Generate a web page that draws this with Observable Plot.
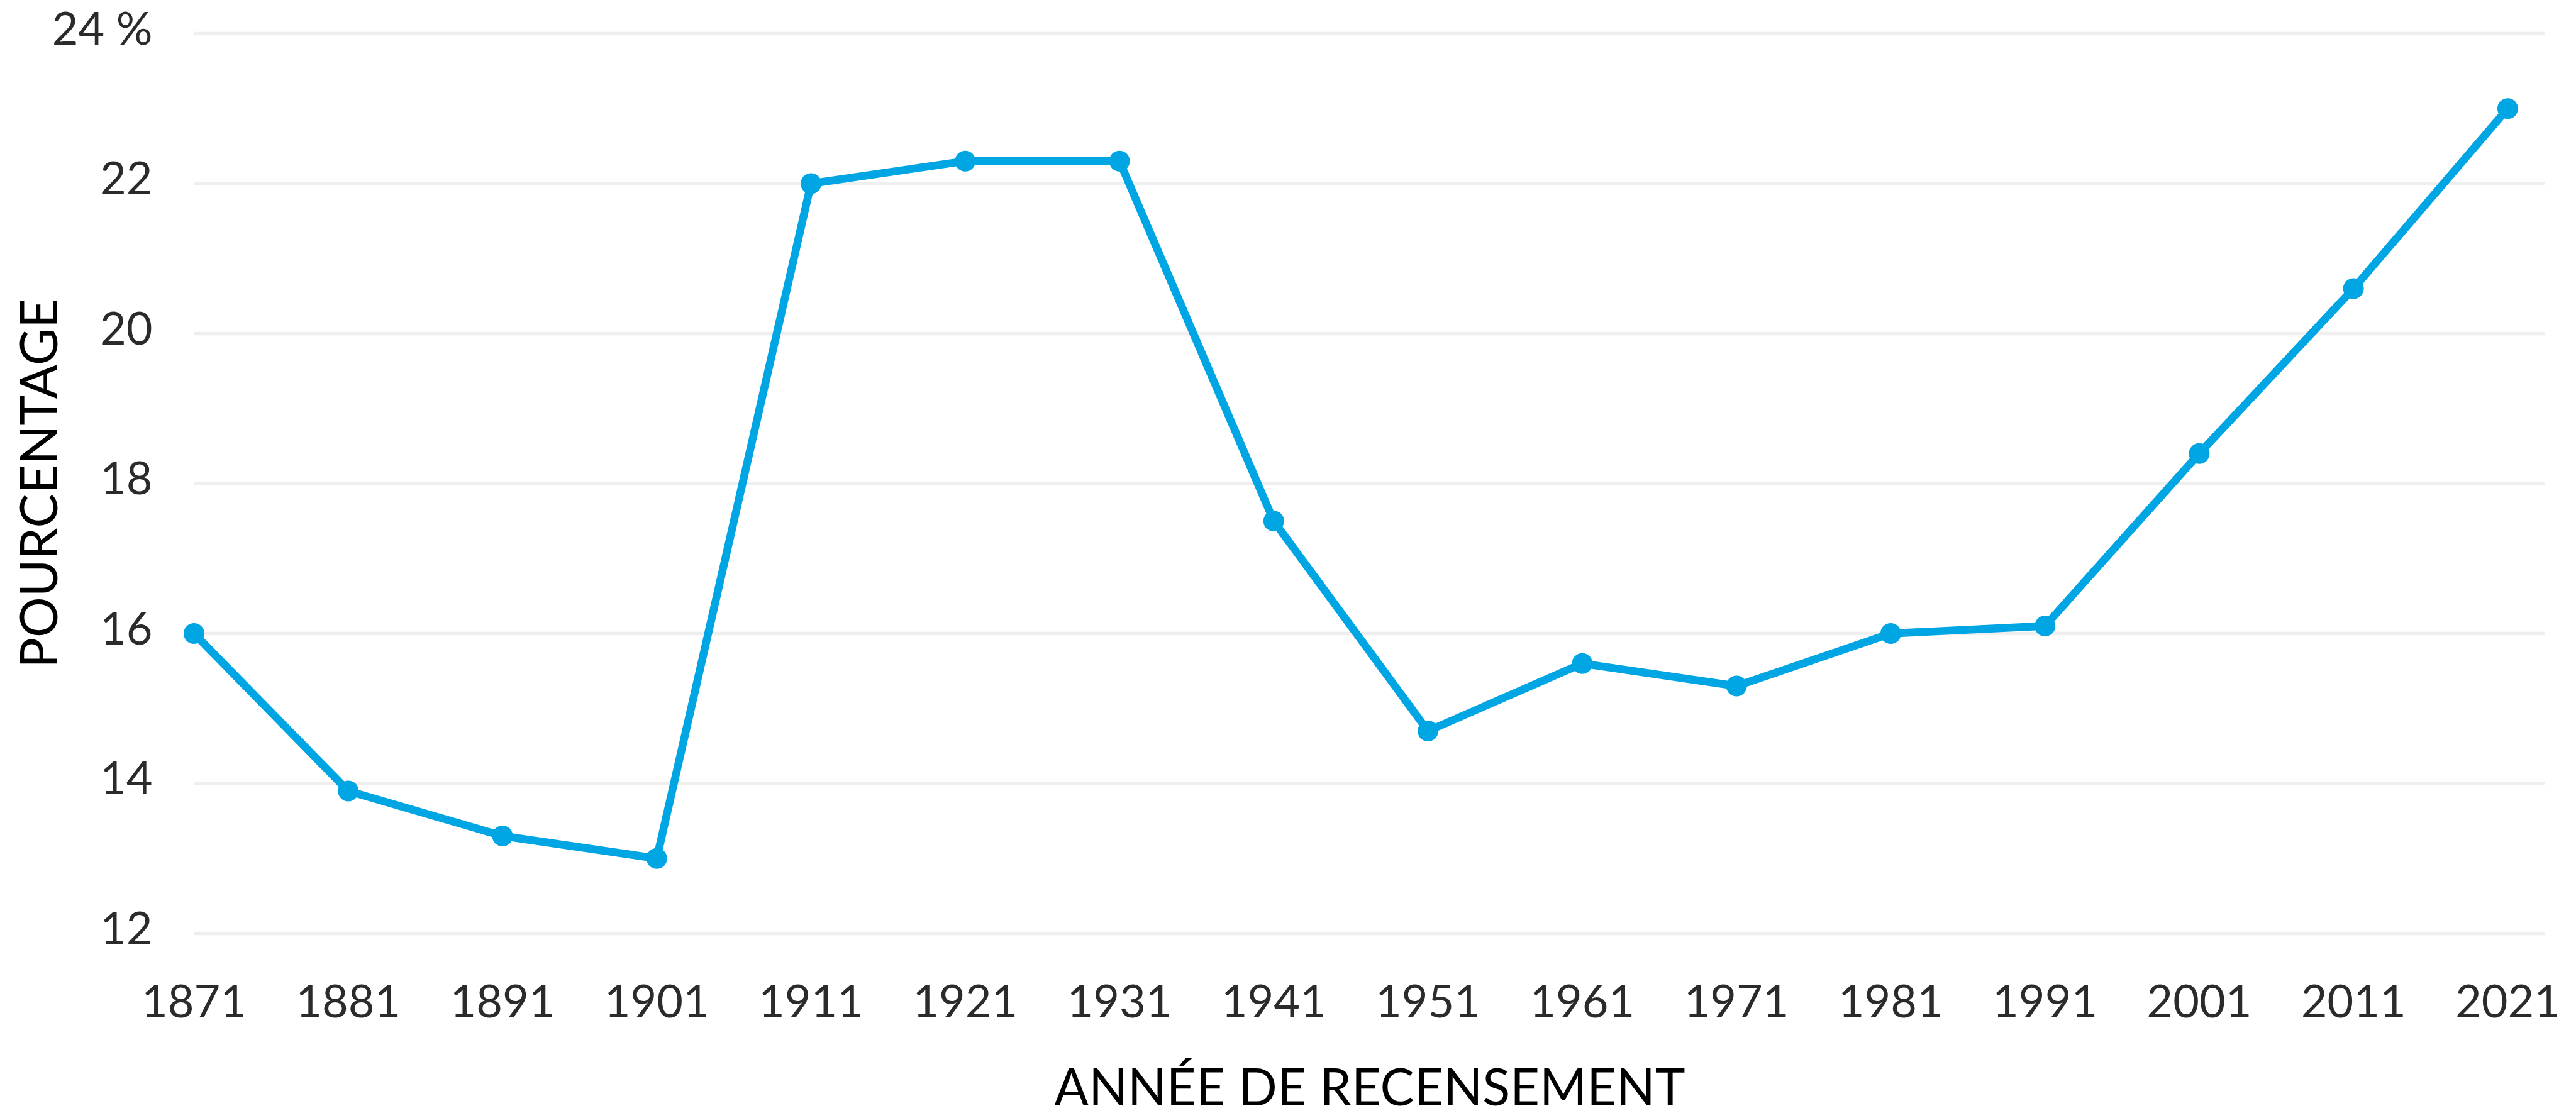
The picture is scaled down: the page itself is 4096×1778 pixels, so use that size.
<!DOCTYPE html>
<html>
<head>
<meta charset="utf-8">
<script src="https://cdn.jsdelivr.net/npm/d3@7"></script>
<script src="https://cdn.jsdelivr.net/npm/@observablehq/plot@0.6"></script>
<style>
  html, body { margin: 0; padding: 0; background: #ffffff; }
  #chart { width: 4096px; height: 1778px; overflow: hidden; }
</style>
</head>
<body>
<div id="chart"></div>
<script>
const years = [1871, 1881, 1891, 1901, 1911, 1921, 1931, 1941, 1951, 1961, 1971, 1981, 1991, 2001, 2011, 2021];
const values = [16.0, 13.9, 13.3, 13.0, 22.0, 22.3, 22.3, 17.5, 14.7, 15.6, 15.3, 16.0, 16.1, 18.4, 20.6, 23.0];
const yTicks = [12, 14, 16, 18, 20, 22, 24];
const yTitle = "POURCENTAGE";
const xTitle = "ANNÉE DE RECENSEMENT";

const data = years.map((year, i) => ({year, value: values[i]}));

const font = "Lato, 'Open Sans', sans-serif";

const chart = Plot.plot({
  width: 4096,
  height: 1778,
  marginTop: 53,
  marginBottom: 294,
  marginLeft: 308,
  marginRight: 49,
  style: {fontFamily: font, fontSize: "72px", color: "#2b2b2b", background: "#ffffff"},
  x: {type: "linear", domain: [1871, 2023.45]},
  y: {domain: [12, 24]},
  marks: [
    Plot.ruleY(yTicks, {stroke: "#efefef", strokeWidth: 5.5}),
    Plot.axisX({ticks: years, tickSize: 0, tickPadding: 82, tickFormat: d => String(d), label: null, fontSize: 72, fill: "#2b2b2b"}),
    Plot.axisY({ticks: yTicks, tickSize: 0, tickPadding: 66, dy: -6, tickFormat: d => d === 24 ? "24 %" : String(d), label: null, fontSize: 72, fill: "#2b2b2b"}),
    Plot.line(data, {x: "year", y: "value", stroke: "#7fd0f0", strokeWidth: 14, dy: 6, strokeOpacity: 0.7, ariaLabel: "shadow"}),
    Plot.line(data, {x: "year", y: "value", stroke: "#00a5e3", strokeWidth: 12.5}),
    Plot.dot(data, {x: "year", y: "value", r: 16.5, fill: "#00a5e3", stroke: "none"}),
    Plot.text([yTitle], {frameAnchor: "left", textAnchor: "middle", lineAnchor: "middle", dx: -243, rotate: -90, fontSize: 81, fill: "#000000", fontFamily: font}),
    Plot.text([xTitle], {frameAnchor: "bottom", textAnchor: "middle", lineAnchor: "middle", dy: 248, fontSize: 81, fill: "#000000", fontFamily: font})
  ]
});

const svg = d3.select(chart);
const defs = svg.insert("defs", ":first-child");
defs.append("filter").attr("id", "shadowBlur").attr("x", "-5%").attr("y", "-5%").attr("width", "110%").attr("height", "110%")
  .append("feGaussianBlur").attr("stdDeviation", 5);
svg.selectAll('g[aria-label="shadow"]').attr("filter", "url(#shadowBlur)");

document.getElementById("chart").appendChild(chart);
</script>
</body>
</html>
